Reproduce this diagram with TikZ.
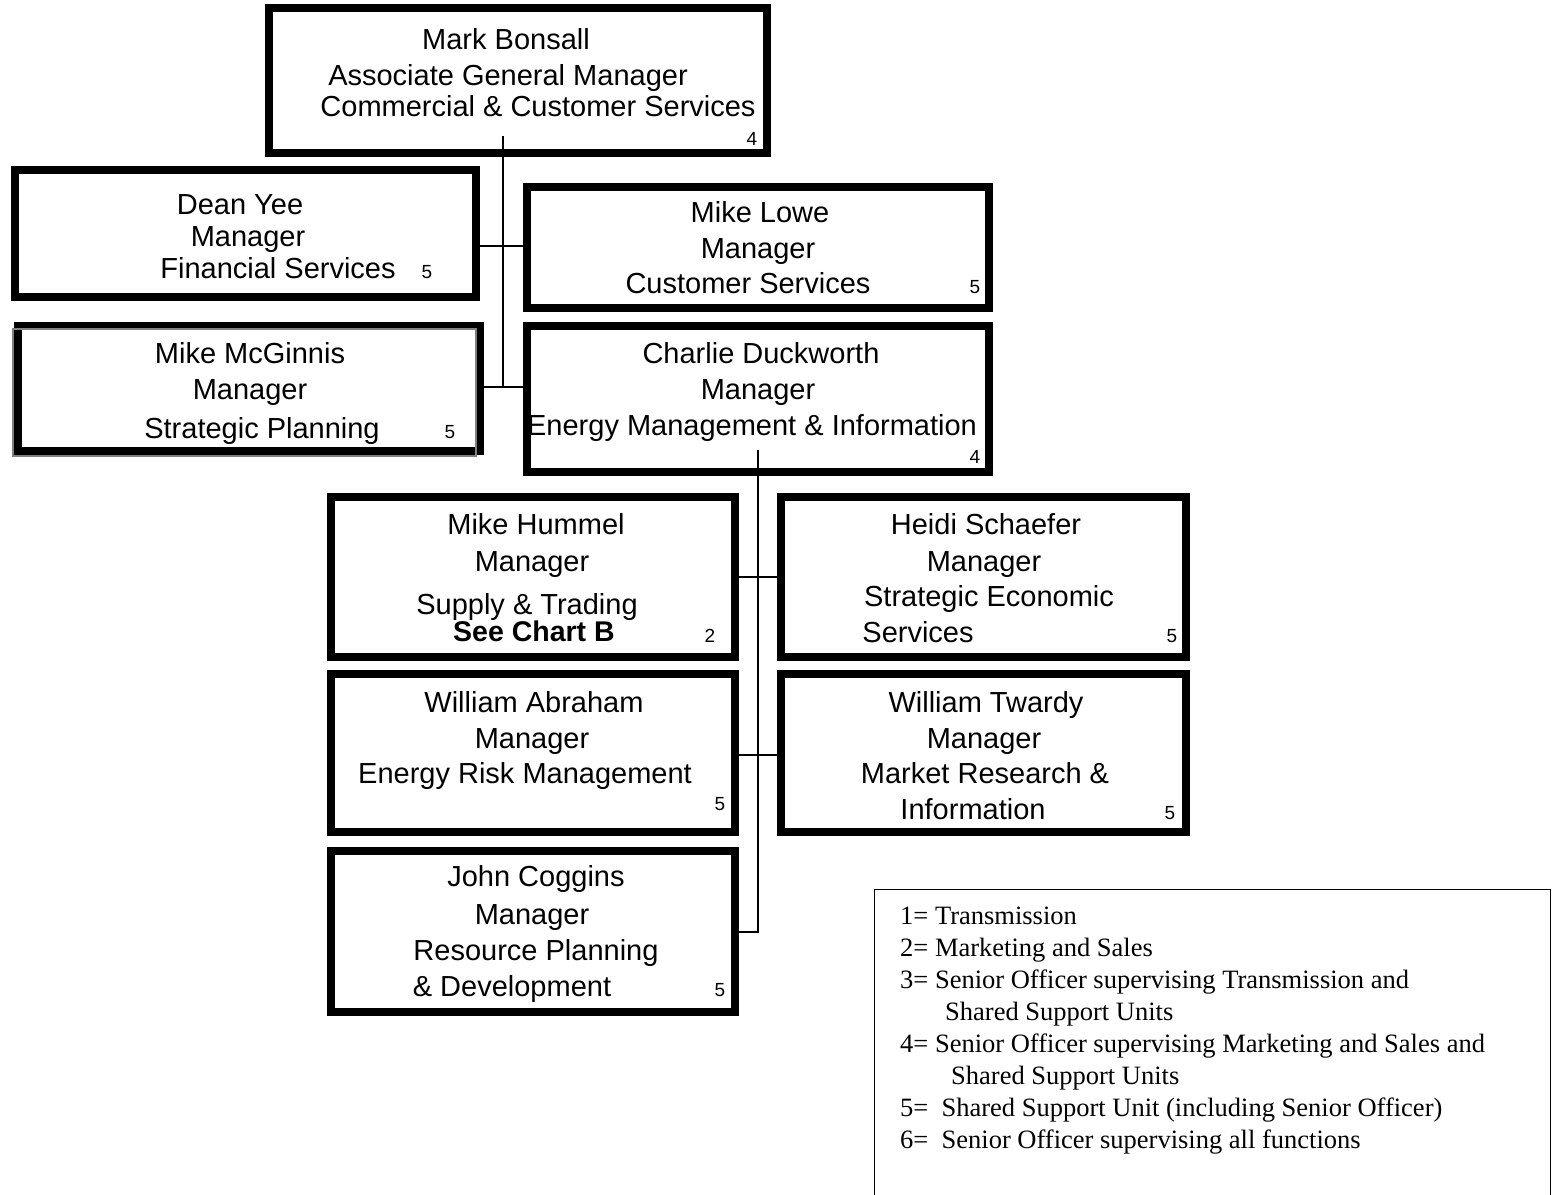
\documentclass[tikz,border=0pt]{standalone}
\usepackage{fontspec}
\setmainfont{Liberation Sans}
\newfontfamily\legendfont{Liberation Serif}
\begin{document}
\begin{tikzpicture}[x=1pt,y=-1pt]
\tikzset{
 orgbox/.style={draw=black, line width=8.5pt, inner sep=0pt, outer sep=0pt},
 lbl/.style={anchor=base, inner sep=0pt, font=\fontsize{29}{33}\selectfont},
 blbl/.style={anchor=base, inner sep=0pt, font=\bfseries\fontsize{28.5}{32}\selectfont},
 num/.style={anchor=base, inner sep=0pt, font=\fontsize{19}{22}\selectfont},
 leg/.style={anchor=base west, inner sep=0pt, font=\legendfont\fontsize{26.5}{32}\selectfont},
 link/.style={line width=1.8pt}
}
\useasboundingbox (0,0) rectangle (1552,1194);
\fill[white] (0,0) rectangle (1552,1194);

% ---- texts ----
\node[lbl] (mb1) at (506,49) {Mark Bonsall};
\node[lbl] (mb2) at (508,85) {Associate General Manager};
\node[lbl] (mb3) at (538,116) {Commercial \& Customer Services};
\node[num] (mbn) at (752,145) {4};

\node[lbl] (dy1) at (240,214) {Dean Yee};
\node[lbl] (dy2) at (248,246) {Manager};
\node[lbl] (dy3) at (278,278) {Financial Services};
\node[num] (dyn) at (427,278) {5};

\node[lbl] (ml1) at (760,222) {Mike Lowe};
\node[lbl] (ml2) at (758,258) {Manager};
\node[lbl] (ml3) at (748,293) {Customer Services};
\node[num] (mln) at (975,293) {5};

\node[lbl] (mm1) at (250,363) {Mike McGinnis};
\node[lbl] (mm2) at (250,399) {Manager};
\node[lbl] (mm3) at (262,438) {Strategic Planning};
\node[num] (mmn) at (450,438) {5};

\node[lbl] (cd1) at (761,363) {Charlie Duckworth};
\node[lbl] (cd2) at (758,399) {Manager};
\node[lbl] (cd3) at (752,435) {Energy Management \& Information};
\node[num] (cdn) at (975,463) {4};

\node[lbl] (mh1) at (536,534) {Mike Hummel};
\node[lbl] (mh2) at (532,571) {Manager};
\node[lbl] (mh3) at (527,614) {Supply \& Trading};
\node[blbl] (mh4) at (534,641) {See Chart B};
\node[num] (mhn) at (710,642) {2};

\node[lbl] (hs1) at (986,534) {Heidi Schaefer};
\node[lbl] (hs2) at (984,571) {Manager};
\node[lbl] (hs3) at (989,606) {Strategic Economic};
\node[lbl] (hs4) at (918,642) {Services};
\node[num] (hsn) at (1172,642) {5};

\node[lbl] (wa1) at (534,712) {William Abraham};
\node[lbl] (wa2) at (532,748) {Manager};
\node[lbl] (wa3) at (525,783) {Energy Risk Management};
\node[num] (wan) at (720,810) {5};

\node[lbl] (wt1) at (986,712) {William Twardy};
\node[lbl] (wt2) at (984,748) {Manager};
\node[lbl] (wt3) at (985,783) {Market Research \&};
\node[lbl] (wt4) at (973,819) {Information};
\node[num] (wtn) at (1170,819) {5};

\node[lbl] (jc1) at (536,886) {John Coggins};
\node[lbl] (jc2) at (532,924) {Manager};
\node[lbl] (jc3) at (536,960) {Resource Planning};
\node[lbl] (jc4) at (512,996) {\& Development};
\node[num] (jcn) at (720,996) {5};

% ---- boxes ----
\node[orgbox, minimum width=498pt, minimum height=145pt] (mb) at (518,80.5) {};
\node[orgbox, minimum width=461pt, minimum height=127pt] (dy) at (245.5,233.5) {};
\node[orgbox, minimum width=462pt, minimum height=121pt] (ml) at (758,247.5) {};
\node[orgbox, minimum width=462pt, minimum height=125pt] (mm) at (249,388.5) {};
\draw[gray, line width=1.5pt] (13,329) rectangle (476,456);
\node[orgbox, minimum width=462pt, minimum height=146pt] (cd) at (758,399) {};
\node[orgbox, minimum width=404pt, minimum height=160pt] (mh) at (533,577) {};
\node[orgbox, minimum width=405pt, minimum height=160pt] (hs) at (983.5,577) {};
\node[orgbox, minimum width=404pt, minimum height=158pt] (wa) at (533,753) {};
\node[orgbox, minimum width=405pt, minimum height=158pt] (wt) at (983.5,753) {};
\node[orgbox, minimum width=404pt, minimum height=161pt] (jc) at (533,931.5) {};

% ---- connectors ----
\coordinate (j0) at (503,136);
\coordinate (j1) at (503,246);
\coordinate (j2) at (503,387);
\draw[link] (j0) -- (j2);
\draw[link] (dy.east |- j1) -- (ml.west |- j1);
\draw[link] (mm.east |- j2) -- (cd.west |- j2);
\coordinate (k0) at (758,450);
\coordinate (k1) at (758,577);
\coordinate (k2) at (758,755);
\coordinate (k3) at (758,932);
\draw[link] (k0) -- (k3) -- (jc.east |- k3);
\draw[link] (mh.east |- k1) -- (hs.west |- k1);
\draw[link] (wa.east |- k2) -- (wt.west |- k2);

% ---- legend ----
\node[draw, line width=1.3pt, inner sep=0pt, anchor=north west, minimum width=676pt, minimum height=340pt] (legend) at (874,889) {};
\node[leg] (l1) at (900,924) {1= Transmission};
\node[leg] (l2) at (900,956) {2= Marketing and Sales};
\node[leg] (l3) at (900,988) {3= Senior Officer supervising Transmission and};
\node[leg] (l3b) at (945,1020) {Shared Support Units};
\node[leg] (l4) at (900,1052) {4= Senior Officer supervising Marketing and Sales and};
\node[leg] (l4b) at (951,1084) {Shared Support Units};
\node[leg] (l5) at (900,1116) {5=\ \ Shared Support Unit (including Senior Officer)};
\node[leg] (l6) at (900,1148) {6=\ \ Senior Officer supervising all functions};
\end{tikzpicture}
\end{document}
